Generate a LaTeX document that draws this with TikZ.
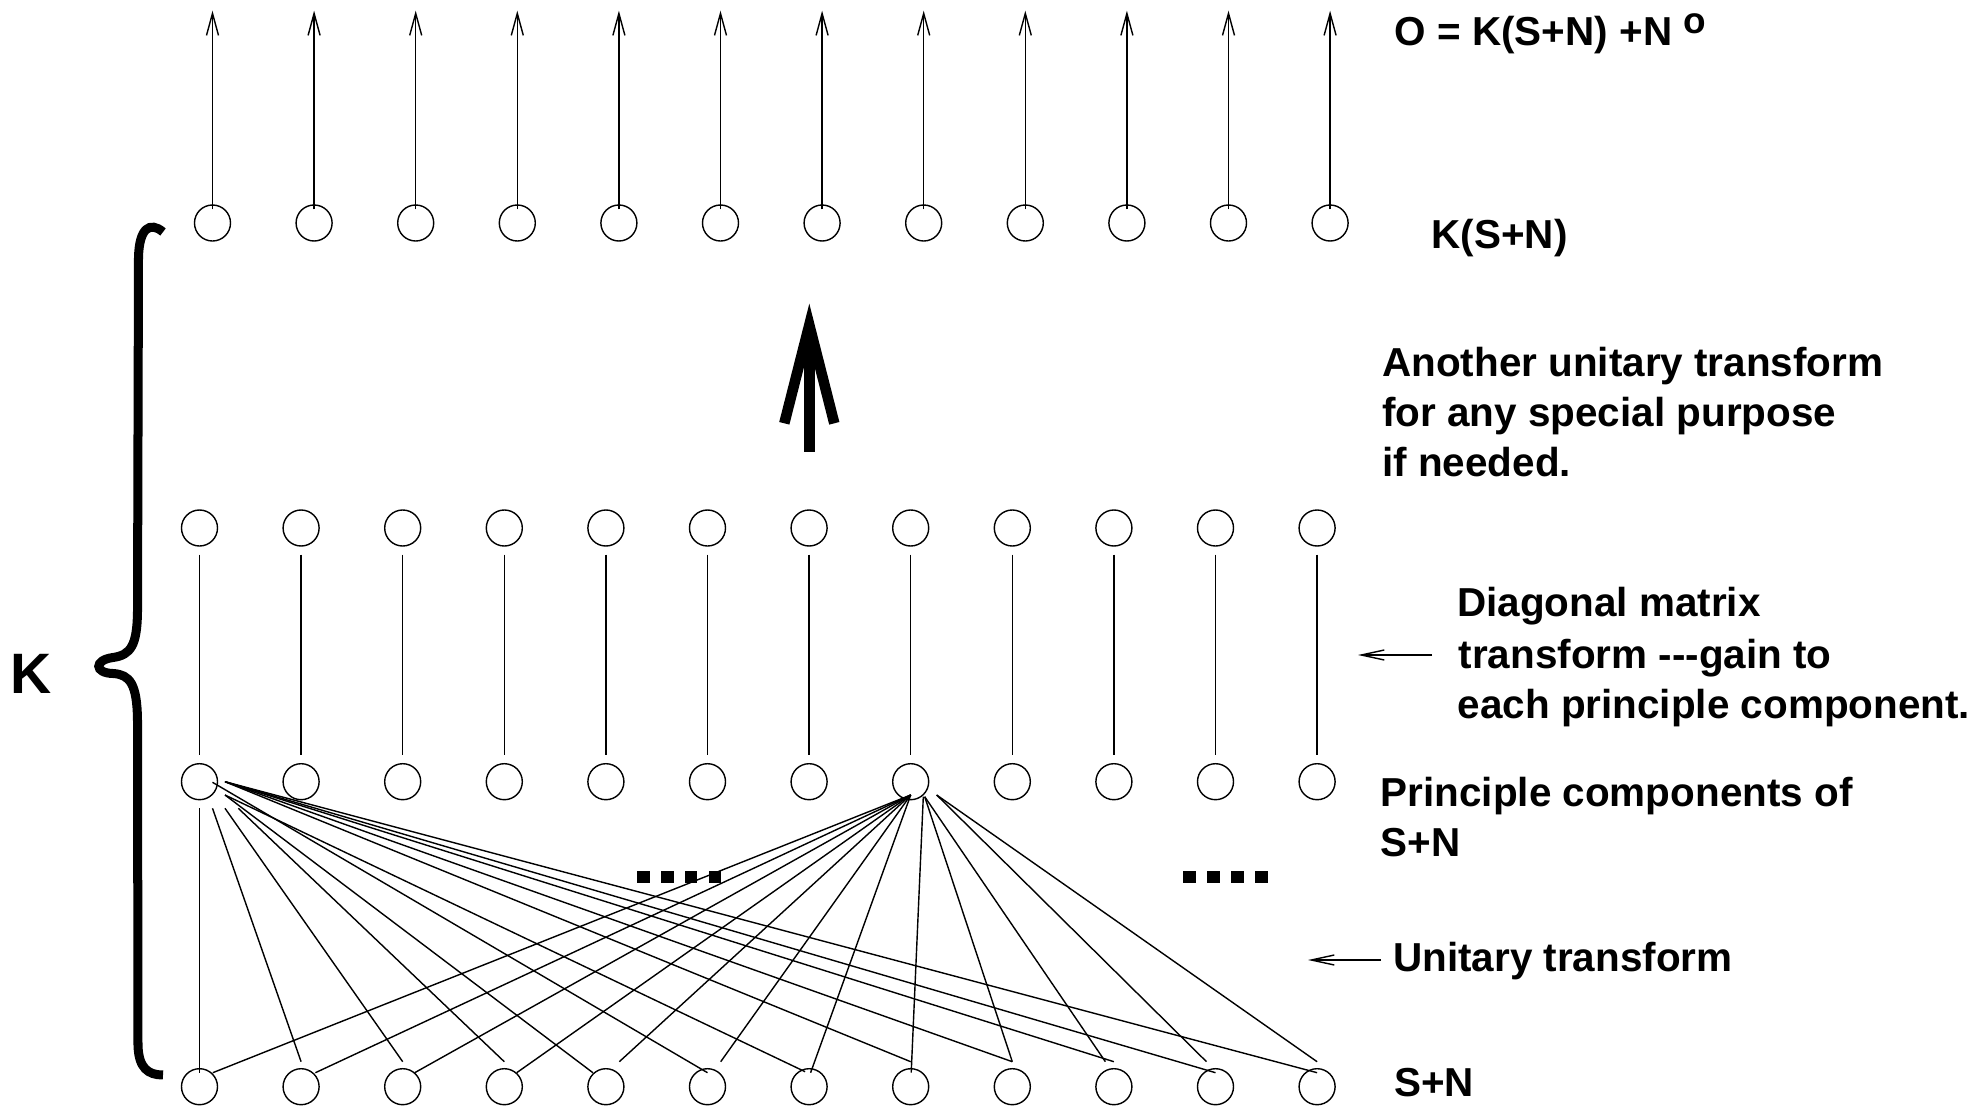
\documentclass[tikz,border=0pt]{standalone}
\usepackage{fontspec}
\setmainfont{Liberation Sans}
\usetikzlibrary{arrows.meta,calc}
\begin{document}
\begin{tikzpicture}[x=0.01cm,y=-0.01cm,
  unit/.style={circle,draw,minimum size=0.36cm,inner sep=0pt},
  outarrow/.style={-{Straight Barb[length=0.22cm,width=0.12cm]},shorten <=-0.05cm},
  diag/.style={shorten <=0.08cm,shorten >=0.08cm},
  note/.style={-{Straight Barb[length=0.23cm,width=0.10cm]}},
  lbl/.style={anchor=base west,inner sep=0pt,font=\fontsize{11.5pt}{14pt}\selectfont\bfseries},
  bold stroke/.style={line width=0.105cm},
  brace stroke/.style={line width=0.09cm},
]
\useasboundingbox (0,0) rectangle (1975,1106);

% four layers of twelve units each
\foreach \i in {0,...,11} {
  \node[unit] (t\i) at ({212.5+101.6*\i},223) {};
  \node[unit] (a\i) at ({199.5+101.6*\i},528) {};
  \node[unit] (b\i) at ({199.5+101.6*\i},781.7) {};
  \node[unit] (s\i) at ({199.5+101.6*\i},1086.7) {};
  \coordinate (tp\i) at ({212.5+101.6*\i},10.7);
  \draw[outarrow] (t\i) -- (tp\i);
  \draw[diag] (a\i) -- (b\i);
}

% unitary transform: fan of the first component
\foreach \j/\sx/\sy/\ex/\ey in {0/0/26.6/0/-14, 1/13/26.6/0/-25, 2/25.5/26.6/0/-25,
    3/38.8/26.6/0/-25, 4/25.5/13.3/-13/-14, 5/13/0.6/0/-14, 6/25.5/13.3/-4/-15,
    7/25.5/0/0/-25, 8/25.5/0/0/-25, 9/25.5/0/0/-25, 10/25.5/0/0/-14, 11/25.5/0/0/-14}
  \draw ($(b0)+(\sx,\sy)$) -- ($(s\j)+(\ex,\ey)$);

% unitary transform: fan of the eighth component
\foreach \j/\sx/\sy/\ex/\ey in {0/0/13.3/13.3/-14, 1/0/13.3/14.3/-14, 2/0/13.3/12/-14,
    3/0/13.3/12.4/-14, 4/0/13.3/13.4/-25, 5/0/13.3/13.2/-25, 6/0/13.3/1.5/-14,
    7/12.6/15/0.5/-14, 8/14/15/0/-25, 9/14/15/-8.5/-25, 10/26/13.3/-9/-25, 11/26/13.3/0/-25}
  \draw ($(b7)+(\sx,\sy)$) -- ($(s\j)+(\ex,\ey)$);

% ellipsis marks
\foreach \x in {637.2,661.2,684.7,708.7,1183.2,1207.1,1231.1,1255.1}
  \fill (\x,871) rectangle ++(12.6,12.3);

% heavy arrow between the layers
\coordinate (bigtail) at (809.3,451.7);
\coordinate (bigtip) at (809.3,325);
\draw[bold stroke] (bigtail) -- (bigtip);
\draw[bold stroke] ($(bigtip)+(-25,98.3)$) -- (bigtip) -- ($(bigtip)+(25,98.3)$);

% brace spanning the whole transform K
\draw[brace stroke] (163,232) .. controls (150,221) and (139,228) .. (138.5,258)
  -- (137.5,612) .. controls (137,645) and (131,655) .. (113,657.5)
  .. controls (94,660) and (94,673) .. (113,673.5)
  .. controls (130,674.5) and (137,684) .. (137.5,720)
  -- (138,1045) .. controls (138.5,1068) and (148,1075) .. (163,1075);
\node[lbl,font=\fontsize{16.2pt}{18pt}\selectfont\bfseries] (kk) at (9.5,693.7) {K};

% pointer arrows
\coordinate (dtail) at (1432,655);
\coordinate (dtip) at (1358,655);
\draw[note] (dtail) -- (dtip);
\coordinate (utail) at (1381,960);
\coordinate (utip) at (1308,960);
\draw[note] (utail) -- (utip);

% labels
\node[lbl] (eqout) at (1394,45) {O = K(S+N) +N \raisebox{3.4pt}{\fontsize{10.5pt}{11pt}\selectfont o}};
\node[lbl] (ksn) at (1431,248.3) {K(S+N)};
\node[lbl] (an1) at (1381.5,376.7) {Another unitary transform};
\node[lbl] (an2) at (1381.5,426.7) {for any special purpose};
\node[lbl] (an3) at (1381.5,476.7) {if needed.};
\node[lbl] (dg1) at (1456.5,616.7) {Diagonal matrix};
\node[lbl] (dg2) at (1458,668) {transform \mbox{-}\mbox{-}\mbox{-}gain to};
\node[lbl] (dg3) at (1457,718.3) {each principle component.};
\node[lbl] (pc1) at (1380,806.7) {Principle components of};
\node[lbl] (pc2) at (1380,856.7) {S+N};
\node[lbl] (ut) at (1392.5,971.7) {Unitary transform};
\node[lbl] (sn) at (1393.5,1096.7) {S+N};
\end{tikzpicture}
\end{document}
